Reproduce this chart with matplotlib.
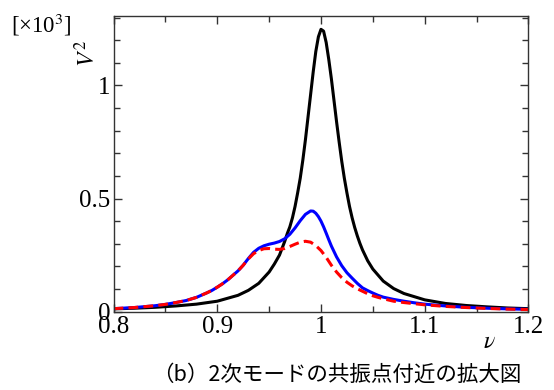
import matplotlib.pyplot as plt
from matplotlib.ticker import MultipleLocator, FuncFormatter

# frequency ratio and V^2 [x10^3]
nu_black = [0.80, 0.82, 0.84, 0.86, 0.88, 0.90, 0.92, 0.93, 0.94, 0.95, 0.955, 0.96,
            0.9625, 0.965, 0.9675, 0.97, 0.9725, 0.975, 0.9775, 0.98, 0.9825, 0.985,
            0.9875, 0.99, 0.9925, 0.995, 0.9975, 1.0, 1.0025, 1.005, 1.0075, 1.01,
            1.0125, 1.015, 1.0175, 1.02, 1.0225, 1.025, 1.0275, 1.03, 1.0325, 1.035,
            1.0375, 1.04, 1.045, 1.05, 1.06, 1.07, 1.08, 1.10, 1.12, 1.14, 1.16, 1.18, 1.20]
v_black = [0.012, 0.015, 0.019, 0.025, 0.033, 0.046, 0.072, 0.094, 0.125, 0.175, 0.21, 0.25,
           0.28, 0.31, 0.345, 0.375, 0.415, 0.465, 0.525, 0.59, 0.67, 0.76,
           0.86, 0.96, 1.06, 1.15, 1.215, 1.248, 1.24, 1.19, 1.115, 1.03,
           0.935, 0.84, 0.75, 0.665, 0.59, 0.525, 0.465, 0.415, 0.372, 0.335,
           0.302, 0.273, 0.225, 0.188, 0.135, 0.102, 0.08, 0.052, 0.036, 0.027, 0.021, 0.016, 0.013]

nu_blue = [0.80, 0.82, 0.84, 0.85, 0.86, 0.87, 0.88, 0.89, 0.895, 0.90, 0.905, 0.91, 0.915,
           0.92, 0.925, 0.93, 0.935, 0.94, 0.945, 0.95, 0.955, 0.96, 0.965, 0.97, 0.975,
           0.98, 0.985, 0.99, 0.9925, 0.995, 0.9975, 1.0, 1.0025, 1.005, 1.0075, 1.01,
           1.015, 1.02, 1.025, 1.03, 1.035, 1.04, 1.045, 1.05, 1.055, 1.06, 1.07, 1.08,
           1.09, 1.10, 1.12, 1.14, 1.16, 1.18, 1.20]
v_blue = [0.013, 0.018, 0.026, 0.032, 0.040, 0.049, 0.063, 0.083, 0.094, 0.108, 0.123, 0.14, 0.16,
          0.18, 0.205, 0.235, 0.262, 0.28, 0.291, 0.298, 0.303, 0.31, 0.322, 0.342, 0.37,
          0.402, 0.43, 0.445, 0.444, 0.435, 0.42, 0.40, 0.375, 0.347, 0.318, 0.29,
          0.242, 0.203, 0.172, 0.148, 0.125, 0.105, 0.093, 0.082, 0.072, 0.064, 0.054, 0.046,
          0.039, 0.033, 0.025, 0.019, 0.015, 0.012, 0.010]

nu_red = [0.80, 0.82, 0.84, 0.85, 0.86, 0.87, 0.88, 0.89, 0.895, 0.90, 0.905, 0.91, 0.915,
          0.92, 0.925, 0.93, 0.935, 0.94, 0.945, 0.95, 0.955, 0.96, 0.965, 0.97, 0.975,
          0.98, 0.985, 0.99, 0.995, 1.0, 1.005, 1.01, 1.015, 1.02, 1.025, 1.03, 1.035,
          1.04, 1.045, 1.05, 1.055, 1.06, 1.07, 1.08, 1.09, 1.10, 1.12, 1.14, 1.16,
          1.18, 1.20]
v_red = [0.013, 0.018, 0.026, 0.032, 0.040, 0.049, 0.063, 0.083, 0.094, 0.108, 0.123, 0.14, 0.16,
         0.18, 0.205, 0.233, 0.256, 0.27, 0.278, 0.279, 0.276, 0.275, 0.279, 0.288, 0.298,
         0.307, 0.311, 0.307, 0.292, 0.27, 0.24, 0.205, 0.175, 0.15, 0.13, 0.114, 0.101,
         0.09, 0.079, 0.07, 0.063, 0.057, 0.046, 0.04, 0.035, 0.03, 0.023, 0.018, 0.014,
         0.011, 0.009]

plt.rcParams['font.family'] = ['Liberation Serif', 'DejaVu Serif']
plt.rcParams['mathtext.fontset'] = 'stix'

fig = plt.figure(figsize=(5.54, 3.9), dpi=100)
ax = fig.add_axes([0.2049, 0.201, 0.749, 0.758])

ax.plot(nu_black, v_black, color='black', lw=2.2)
ax.plot(nu_blue, v_blue, color='blue', lw=2.2)
ax.plot(nu_red, v_red, color='red', lw=2.2, ls=(0, (3.2, 1.7)))

ax.set_xlim(0.8, 1.2)
ax.set_ylim(0, 1.307)
ax.xaxis.set_major_locator(MultipleLocator(0.1))
ax.xaxis.set_minor_locator(MultipleLocator(0.05))
ax.yaxis.set_major_locator(MultipleLocator(0.5))
ax.yaxis.set_minor_locator(MultipleLocator(0.1))
fmt = FuncFormatter(lambda v, p: f'{v:g}')
ax.xaxis.set_major_formatter(fmt)
ax.yaxis.set_major_formatter(fmt)
ax.tick_params(which='both', direction='in', top=True, right=True,
               width=1.0, color='#333333', labelsize=18)
ax.tick_params(which='major', length=6)
ax.tick_params(which='minor', length=4)
ax.tick_params(axis='x', pad=3)
ax.tick_params(axis='y', pad=2)
for s in ax.spines.values():
    s.set_linewidth(1.0)
    s.set_color('#333333')

fig.text(0.157, 0.862, r'$V^2$', rotation=90, fontsize=17, ha='center', va='center')
fig.text(0.02, 0.937, r'[×10$^3$]', fontsize=16.5, ha='left', va='center')
fig.text(0.884, 0.123, r'$\nu$', fontsize=17, ha='center', va='center')
fig.text(0.607, 0.04, '（b）2次モードの共振点付近の拡大図', fontsize=15.5,
         ha='center', va='center', family=['Noto Sans CJK JP', 'DejaVu Sans'])

fig.savefig('out.png', dpi=100)
